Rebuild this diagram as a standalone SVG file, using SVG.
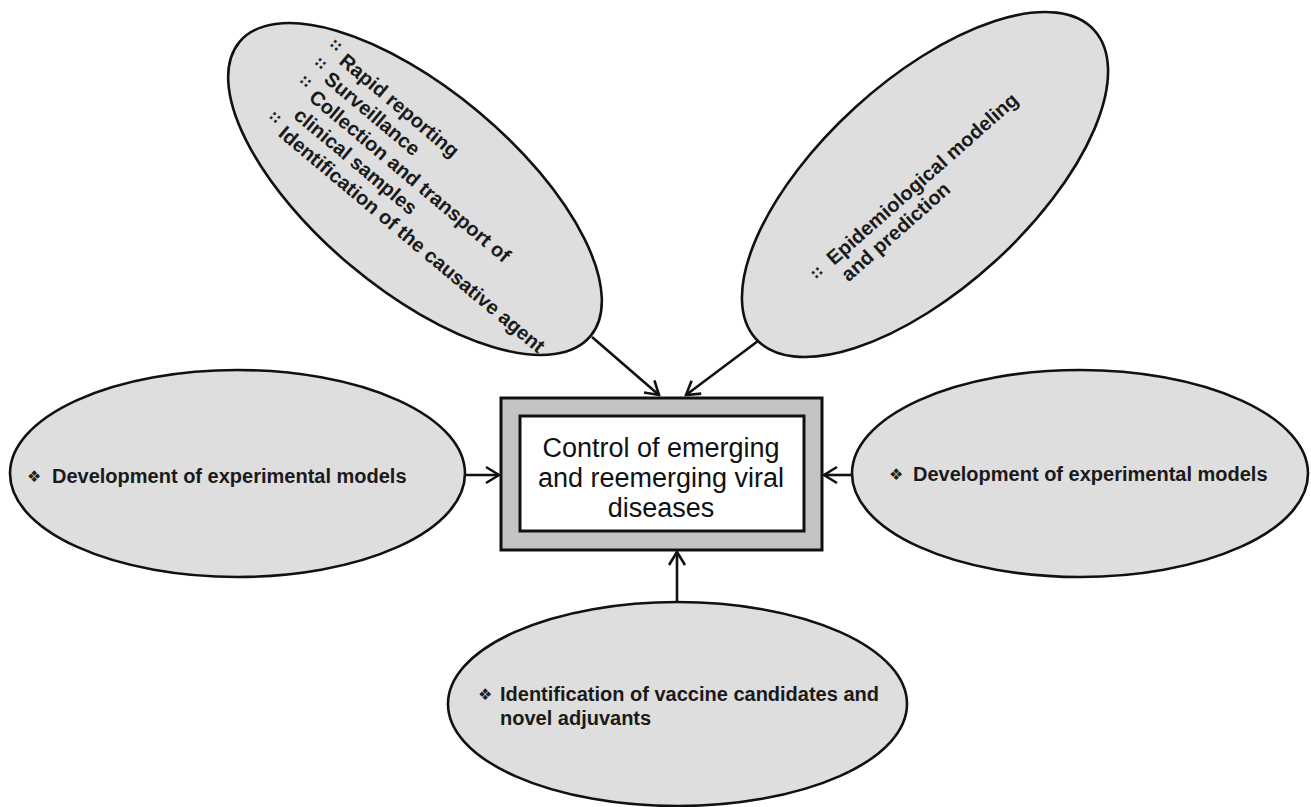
<svg xmlns="http://www.w3.org/2000/svg" width="1311" height="807" viewBox="0 0 1311 807">
  <style>
    .ell { fill: #dedede; stroke: #111111; stroke-width: 2.6; }
    .lbl { font-family: "Liberation Sans", Arial, sans-serif; font-weight: bold; font-size: 20px; fill: #1a1a1a; }
    .ctr { font-family: "Liberation Sans", Arial, sans-serif; font-size: 27px; fill: #111111; text-anchor: middle; }
    .b1 { font-family: "DejaVu Sans", sans-serif; font-size: 16px; fill: #222222; }
    .b2 { font-family: "DejaVu Sans", sans-serif; font-weight: bold; font-size: 14px; fill: #222222; }
    .conn { stroke: #111111; stroke-width: 2.6; fill: none; marker-end: url(#arr); }
  </style>
  <defs>
    <marker id="arr" viewBox="-16 -10 18 20" markerWidth="18" markerHeight="20" refX="0" refY="0" orient="auto" markerUnits="userSpaceOnUse">
      <path d="M-13,-8 L0,0 L-13,8" fill="none" stroke="#111111" stroke-width="2.6" stroke-linejoin="miter"/>
    </marker>
  </defs>
  <rect width="1311" height="807" fill="#ffffff"/>

  <g id="node-top-left">
    <ellipse class="ell" cx="415" cy="189" rx="229" ry="100" transform="rotate(40 415 189)"/>
    <g transform="translate(338,63) rotate(40)">
      <text class="b2" x="-18" y="-7">∷</text>
      <text class="lbl" x="0" y="0">Rapid reporting</text>
      <text class="b2" x="-18" y="16.6">∷</text>
      <text class="lbl" x="0" y="23.6">Surveillance</text>
      <text class="b2" x="-18" y="40.2">∷</text>
      <text class="lbl" x="0" y="47.2">Collection and transport of</text>
      <text class="lbl" x="0" y="70.8">clinical samples</text>
      <text class="b2" x="-18" y="87.4">∷</text>
      <text class="lbl" x="0" y="94.4">Identification of the causative agent</text>
    </g>
  </g>

  <g id="node-top-right">
    <ellipse class="ell" cx="925" cy="184.5" rx="229" ry="104" transform="rotate(-42.4 925 184.5)"/>
    <g transform="translate(834,266) rotate(-41.5)">
      <text class="b2" x="-22" y="-1">∷</text>
      <text class="lbl" x="0" y="0">Epidemiological modeling</text>
      <text class="lbl" x="0" y="22">and prediction</text>
    </g>
  </g>

  <g id="node-left">
    <ellipse class="ell" cx="237.5" cy="473.5" rx="227.5" ry="103.5"/>
    <text class="b1" x="27" y="482">❖</text>
    <text class="lbl" x="52" y="483">Development of experimental models</text>
  </g>

  <g id="node-right">
    <ellipse class="ell" cx="1080" cy="473.5" rx="228" ry="103.5"/>
    <text class="b1" x="889" y="480">❖</text>
    <text class="lbl" x="913" y="481">Development of experimental models</text>
  </g>

  <g id="node-bottom">
    <ellipse class="ell" cx="677.5" cy="704" rx="229.5" ry="102"/>
    <text class="b1" x="478" y="700">❖</text>
    <text class="lbl" x="500" y="701">Identification of vaccine candidates and</text>
    <text class="lbl" x="500" y="725">novel adjuvants</text>
  </g>

  <g id="node-center">
    <rect x="501" y="398" width="321" height="152" fill="#c4c4c4" stroke="#111111" stroke-width="3"/>
    <rect x="520" y="416" width="284" height="115" fill="#ffffff" stroke="#111111" stroke-width="3"/>
    <text class="ctr" x="661" y="457">Control of emerging</text>
    <text class="ctr" x="661" y="487">and reemerging viral</text>
    <text class="ctr" x="661" y="517">diseases</text>
  </g>

  <g id="connectors">
    <line class="conn" x1="592" y1="337" x2="659" y2="395"/>
    <line class="conn" x1="758" y1="341" x2="686" y2="395"/>
    <line class="conn" x1="466" y1="475" x2="499" y2="475"/>
    <line class="conn" x1="852" y1="475" x2="824" y2="475"/>
    <line class="conn" x1="677" y1="602" x2="677" y2="552"/>
  </g>
</svg>
